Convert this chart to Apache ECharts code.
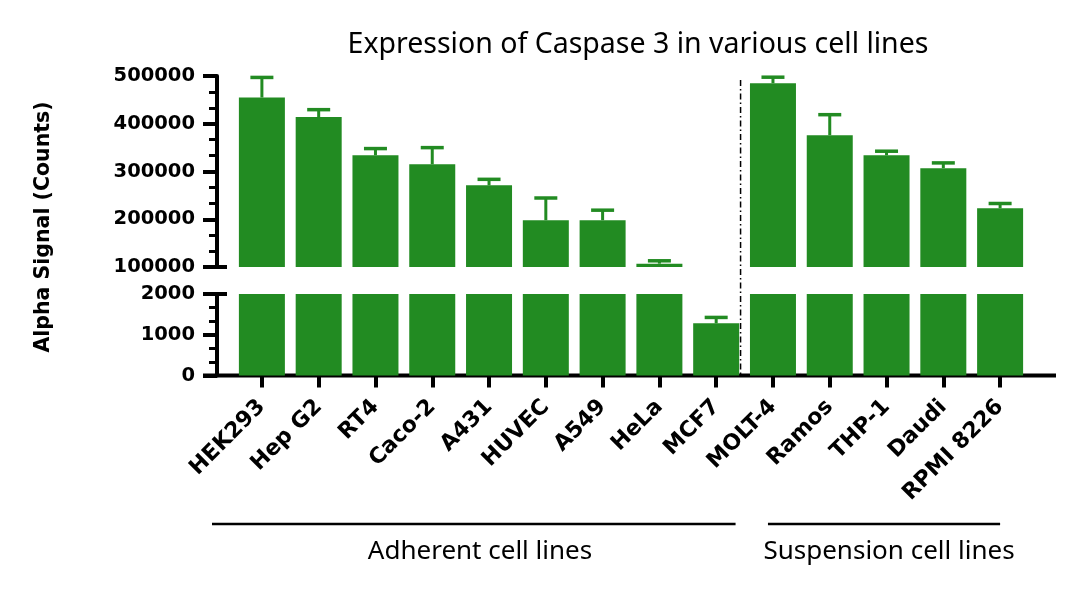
<!DOCTYPE html>
<html>
<head>
<meta charset="utf-8">
<title>Caspase 3</title>
<script src="https://cdn.jsdelivr.net/npm/echarts@6/dist/echarts.min.js"></script>
<style>
  html, body { margin: 0; padding: 0; background: #fff; }
  #chart { width: 1080px; height: 594px; }
</style>
</head>
<body>
<div id="chart"></div>
<script>
// data
const cellLines = ['HEK293', 'Hep G2', 'RT4', 'Caco-2', 'A431', 'HUVEC', 'A549', 'HeLa', 'MCF7',
  'MOLT-4', 'Ramos', 'THP-1', 'Daudi', 'RPMI 8226'];
const meanSignal = [455000, 414000, 334000, 315000, 271000, 198000, 198000, 107000, 1280,
  485000, 376000, 334000, 307000, 223000];
const sdSignal = [42000, 15500, 14000, 35000, 12600, 46500, 21000, 6000, 145,
  12500, 43000, 8500, 11000, 10000];
const upperRange = [100000, 500000, 100000]; // min, max, step
const lowerRange = [0, 2000, 1000];
const groupNames = ['Adherent cell lines', 'Suspension cell lines'];
const groupSizes = [9, 5];

const GREEN = '#228B22';
const BOLD = 'DejaVu Sans';
const LIGHT = 'Noto Sans';

// layout
const gridLeft = 233.5;
const gridWidth = 795;
const upperTop = 76, upperHeight = 191;
const lowerTop = 294, lowerHeight = 81.5;
const axisX = 217;
const baseY = lowerTop + lowerHeight;
const slot = gridWidth / cellLines.length;

const chartDom = document.getElementById('chart');
const chart = echarts.init(chartDom);

const errData = cellLines.map((c, i) => [i, meanSignal[i], sdSignal[i]]);

const errorBar = (lo, hi) => (params, api) => {
  const v = api.value(1), e = api.value(2);
  if (v < lo || v + e > hi) return;
  const base = api.coord([api.value(0), v]);
  const tip = api.coord([api.value(0), v + e]);
  return {
    type: 'group',
    children: [
      { type: 'line', shape: { x1: base[0], y1: base[1], x2: tip[0], y2: tip[1] },
        style: { stroke: GREEN, lineWidth: 3 } },
      { type: 'line', shape: { x1: tip[0] - 11.5, y1: tip[1], x2: tip[0] + 11.5, y2: tip[1] },
        style: { stroke: GREEN, lineWidth: 3.5 } }
    ]
  };
};

const yAxisBase = (range) => ({
  type: 'value',
  min: range[0],
  max: range[1],
  interval: range[2],
  offset: gridLeft - axisX,
  axisLine: { show: true, lineStyle: { color: '#000', width: 4 } },
  axisTick: { show: true, length: 14, lineStyle: { color: '#000', width: 4 } },
  minorTick: { show: true, splitNumber: 3, length: 8, lineStyle: { color: '#000', width: 3 } },
  splitLine: { show: false },
  axisLabel: {
    color: '#000', fontFamily: BOLD, fontWeight: 'bold', fontSize: 19.5, margin: 22,
    formatter: (v) => String(v)
  }
});

const line = (x1, y1, x2, y2, extra) => ({
  type: 'line',
  shape: { x1, y1, x2, y2 },
  style: Object.assign({ stroke: '#000', lineWidth: 2.5 }, extra || {}),
  silent: true
});

const dividerX = gridLeft + groupSizes[0] * slot - 4;
const lastCenter = gridLeft + (cellLines.length - 0.5) * slot;
const moltCenter = gridLeft + (groupSizes[0] + 0.5) * slot;

const option = {
  animation: false,
  grid: [
    { left: gridLeft, top: upperTop, width: gridWidth, height: upperHeight, outerBoundsMode: 'none' },
    { left: gridLeft, top: lowerTop, width: gridWidth, height: lowerHeight, outerBoundsMode: 'none' }
  ],
  xAxis: [
    { type: 'category', gridIndex: 0, data: cellLines, show: false },
    {
      type: 'category', gridIndex: 1, data: cellLines,
      axisLine: { show: false },
      axisTick: { show: true, alignWithLabel: true, length: 12, lineStyle: { color: '#000', width: 4 } },
      axisLabel: {
        interval: 0, rotate: 45, margin: 28, color: '#000',
        fontFamily: BOLD, fontWeight: 'bold', fontSize: 22
      }
    }
  ],
  yAxis: [
    Object.assign(yAxisBase(upperRange), { gridIndex: 0 }),
    Object.assign(yAxisBase(lowerRange), { gridIndex: 1 })
  ],
  series: [
    {
      type: 'bar', xAxisIndex: 0, yAxisIndex: 0,
      data: meanSignal.map(v => (v >= upperRange[0] ? v : '-')),
      barWidth: 46, itemStyle: { color: GREEN }, clip: true
    },
    {
      type: 'bar', xAxisIndex: 1, yAxisIndex: 1,
      data: meanSignal,
      barWidth: 46, itemStyle: { color: GREEN }, clip: true
    },
    {
      type: 'custom', xAxisIndex: 0, yAxisIndex: 0, z: 3,
      renderItem: errorBar(upperRange[0], Infinity),
      data: errData, encode: { x: 0, y: 1 }
    },
    {
      type: 'custom', xAxisIndex: 1, yAxisIndex: 1, z: 3,
      renderItem: errorBar(-Infinity, lowerRange[1]),
      data: errData, encode: { x: 0, y: 1 }
    }
  ],
  graphic: [
    {
      type: 'text', x: 638, y: 45, silent: true,
      style: { text: 'Expression of Caspase 3 in various cell lines', fontFamily: LIGHT,
        fontSize: 28.5, fill: '#000', align: 'center', verticalAlign: 'middle' }
    },
    {
      type: 'text', x: 44, y: 227, rotation: Math.PI / 2, silent: true,
      style: { text: 'Alpha Signal (Counts)', fontFamily: BOLD, fontWeight: 'bold',
        fontSize: 20.5, fill: '#000', align: 'center', verticalAlign: 'middle' }
    },
    // x axis baseline, running under the y axis ticks
    line(203, baseY, 1056, baseY, { lineWidth: 4 }),
    // break caps
    line(axisX, upperTop + upperHeight, axisX + 10, upperTop + upperHeight, { lineWidth: 4 }),
    line(axisX, lowerTop, axisX + 10, lowerTop, { lineWidth: 4 }),
    // dash-dot divider between groups
    line(dividerX, 80, dividerX, baseY, { lineWidth: 1.5, lineDash: [6, 3, 1.5, 3] }),
    // group brackets
    line(212, 524, dividerX - 5, 524),
    line(moltCenter - 5, 524, lastCenter, 524),
    {
      type: 'text', x: 480, y: 552, silent: true,
      style: { text: groupNames[0], fontFamily: LIGHT, fontSize: 26, fill: '#000',
        align: 'center', verticalAlign: 'middle' }
    },
    {
      type: 'text', x: 889, y: 552, silent: true,
      style: { text: groupNames[1], fontFamily: LIGHT, fontSize: 26, fill: '#000',
        align: 'center', verticalAlign: 'middle' }
    }
  ]
};

chart.setOption(option);
window.addEventListener('resize', () => chart.resize());
</script>
</body>
</html>
